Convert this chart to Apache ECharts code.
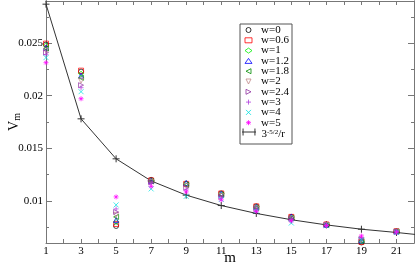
<!DOCTYPE html>
<html><head><meta charset="utf-8">
<script src="https://cdn.jsdelivr.net/npm/echarts@6/dist/echarts.min.js"></script>
<style>html,body{margin:0;padding:0;background:#fff}#c{width:415px;height:264px}</style>
</head><body><div id="c"></div>
<script>
var ms = [1,3,5,7,9,11,13,15,17,19,21];
var w0  = [0.02486,0.02229,0.00762,0.01200,0.01162,0.01071,0.00948,0.00848,0.00776,0.00605,0.00712];
var w06 = [0.02495,0.02238,0.00781,0.01195,0.01162,0.01071,0.00948,0.00848,0.00776,0.00610,0.00712];
var w1  = [0.02476,0.02210,0.00800,0.01190,0.01167,0.01067,0.00943,0.00843,0.00774,0.00614,0.00710];
var w12 = [0.02457,0.02190,0.00819,0.01190,0.01171,0.01067,0.00943,0.00852,0.00774,0.00624,0.00710];
var w18 = [0.02448,0.02170,0.00848,0.01186,0.01152,0.01057,0.00933,0.00838,0.00772,0.00620,0.00709];
var w2  = [0.02429,0.02143,0.00867,0.01180,0.01143,0.01048,0.00929,0.00833,0.00771,0.00629,0.00708];
var w24 = [0.02410,0.02100,0.00895,0.01176,0.01124,0.01038,0.00924,0.00829,0.00770,0.00638,0.00707];
var w3  = [0.02390,0.02076,0.00924,0.01170,0.01105,0.01029,0.00914,0.00820,0.00768,0.00648,0.00706];
var w4  = [0.02362,0.02038,0.00962,0.01114,0.01043,0.01014,0.00905,0.00790,0.00765,0.00629,0.00704];
var w5  = [0.02314,0.01971,0.01038,0.01138,0.01086,0.01010,0.00900,0.00810,0.00767,0.00667,0.00705];
var lineM = [1,3,5,7,9,11,13,15,17,19,21,23];
var lineV = [0.0287,0.0178,0.0140,0.0119,0.01055,0.00956,0.00881,0.00821,0.00772,0.00731,0.00700,0.00665];
var yMajor = [0.01,0.015,0.02,0.025];
var yMinor = [0.0075,0.0125,0.0175,0.0225,0.0275];

function pairs(xs, vs){ return xs.map(function(x,i){ return [x, vs[i]]; }); }

var defs = [
  ['w=0', w0, 'circle', '#000000'],
  ['w=0.6', w06, 'rect', '#ff0000'],
  ['w=1', w1, 'diamond', '#00f000'],
  ['w=1.2', w12, 'triangle', '#0000ff'],
  ['w=1.8', w18, 'path://M0,5 L10,0 L10,10 Z', '#008b00'],
  ['w=2', w2, 'path://M0,0 L10,0 L5,10 Z', '#c08888'],
  ['w=2.4', w24, 'path://M10,5 L0,0 L0,10 Z', '#9030a0'],
  ['w=3', w3, 'path://M5,0 L5,10 M0,5 L10,5', '#b040e0'],
  ['w=4', w4, 'path://M0,0 L10,10 M10,0 L0,10', '#00e0e0'],
  ['w=5', w5, 'path://M5,0 L5,10 M0,5 L10,5 M1.5,1.5 L8.5,8.5 M8.5,1.5 L1.5,8.5', '#ff00ff']
];

var series = defs.map(function(d){
  return {
    name: d[0], type: 'scatter', data: pairs(ms, d[1]),
    symbol: d[2], symbolSize: 5, xAxisIndex: 0, yAxisIndex: 0,
    itemStyle: {color: 'rgba(0,0,0,0)', borderColor: d[3], borderWidth: 0.9}
  };
});
series.push({
  name: 'f', type: 'line', data: pairs(lineM, lineV), xAxisIndex: 0, yAxisIndex: 0,
  symbol: 'path://M5,0 L5,10 M0,5 L10,5', symbolSize: 7, showAllSymbol: true,
  lineStyle: {color: '#333', width: 1},
  itemStyle: {color: 'rgba(0,0,0,0)', borderColor: '#333', borderWidth: 1},
  clip: true, z: 1
});

var axisCol = '#777';
var font = 'Liberation Serif';
var baseX = {
  type: 'value', min: 1, max: 22, interval: 1,
  axisLine: {show: true, lineStyle: {color: axisCol, width: 1}},
  axisTick: {show: true, inside: true, length: 4, lineStyle: {color: axisCol}},
  splitLine: {show: false}
};
function yAx(pos, vals, len, labels){
  return {
    type: 'value', min: 0.006, max: 0.029, position: pos,
    axisLine: {show: true, lineStyle: {color: axisCol, width: 1}},
    axisTick: {show: true, inside: true, length: len, customValues: vals, lineStyle: {color: axisCol}},
    axisLabel: labels ? {show: true, customValues: vals, color: '#000', fontFamily: font, fontSize: 11, margin: 3} : {show: false},
    splitLine: {show: false}
  };
}

var yMain = yAx('left', yMajor, 6, true);
yMain.name = '{v|V}{s|m}';
yMain.nameLocation = 'middle';
yMain.nameRotate = 90;
yMain.nameGap = 24;
yMain.nameMoveOverlap = false;
yMain.nameTextStyle = {fontFamily: font, rich: {
  v: {fontFamily: font, fontSize: 14, color: '#000'},
  s: {fontFamily: font, fontSize: 10, color: '#000', padding: [6,0,0,0]}
}};

var legText = {fontFamily: font, fontSize: 11, color: '#000', padding: [0,0,0,4]};
var legData = defs.map(function(d){
  return {name: d[0], icon: d[2], itemStyle: {color: 'rgba(0,0,0,0)', borderColor: d[3], borderWidth: 1}};
});
var option = {
  animation: false,
  backgroundColor: '#fff',
  grid: {left: 46, right: 1, top: 1, bottom: 21, containLabel: false, outerBoundsMode: 'none'},
  graphic: [{type: 'rect', shape: {x: 240, y: 24, width: 52, height: 120},
    style: {fill: '#fff', stroke: '#555', lineWidth: 1}, z: 90}],
  xAxis: [
    Object.assign({}, baseX, {position: 'bottom',
      name: 'm', nameLocation: 'middle', nameGap: 8, nameMoveOverlap: false,
      nameTextStyle: {fontFamily: font, fontSize: 15, color: '#000', verticalAlign: 'top'},
      axisLabel: {show: true, color: '#000', fontFamily: font, fontSize: 11, margin: 3,
        formatter: function(v){ return (v % 2 === 1) ? String(v) : ''; }}}),
    Object.assign({}, baseX, {position: 'top', axisLabel: {show: false}})
  ],
  yAxis: [
    yMain,
    yAx('left', yMinor, 3, false),
    yAx('right', yMajor, 6, false),
    yAx('right', yMinor, 3, false)
  ],
  legend: [{
    orient: 'vertical', left: 244.5, top: 24.5, z: 100,
    padding: 0, itemGap: -0.7, itemWidth: 7, itemHeight: 5,
    textStyle: legText,
    data: legData
  }, {
    orient: 'vertical', left: 241.5, top: 128, z: 100,
    padding: 0, itemGap: 0, itemWidth: 15, itemHeight: 7,
    textStyle: {fontFamily: font, fontSize: 11, color: '#000',
      rich: {a: {fontFamily: font, fontSize: 11, color: '#000', padding: [4,0,0,0]}, b: {fontFamily: font, fontSize: 7, color: '#000'}}},
    formatter: function(n){ return '{a|3}{b|-5/2}{a|/r}'; },
    data: [{name: 'f', icon: 'path://M0,5 L20,5 M1.5,0 L1.5,10 M18.5,0 L18.5,10',
      itemStyle: {color: 'rgba(0,0,0,0)', borderColor: '#333', borderWidth: 1}}]
  }],
  series: series
};
var chart = echarts.init(document.getElementById('c'), null, {renderer: 'canvas'});
chart.setOption(option);
</script></body></html>
